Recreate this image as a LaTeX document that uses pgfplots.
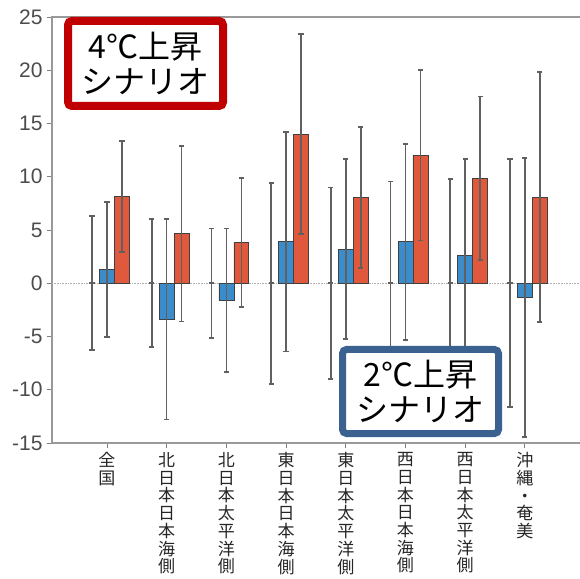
\documentclass[border=0pt]{standalone}
\usepackage{pgfplots}
\pgfplotsset{compat=1.18}
\usepackage{fontspec}
\setmainfont{Noto Sans CJK JP}
\newfontfamily\lat{Liberation Sans}
\definecolor{barblue}{HTML}{3A8DCA}
\definecolor{barred}{HTML}{E0593D}
\definecolor{boxred}{HTML}{C00000}
\definecolor{boxblue}{HTML}{3B6191}
\definecolor{errc}{HTML}{606060}

\pgfdeclareplotmark{hcap}{%
  \pgfpathmoveto{\pgfqpoint{-\pgfplotmarksize}{0pt}}%
  \pgfpathlineto{\pgfqpoint{\pgfplotmarksize}{0pt}}%
  \pgfusepathqstroke}
\pgfdeclareplotmark{vcap}{%
  \pgfpathmoveto{\pgfqpoint{0pt}{-\pgfplotmarksize}}%
  \pgfpathlineto{\pgfqpoint{0pt}{\pgfplotmarksize}}%
  \pgfusepathqstroke}

\pgfplotstableread{
x y e
-0.25 0 6.3
0.75 0 6.0
1.75 0 5.15
2.75 0 9.45
3.75 0 9.0
4.75 0 9.55
5.75 0 9.8
6.75 0 11.65
}\present

\pgfplotstableread{
x y e
0 1.3 6.33
1 -3.4 9.4
2 -1.6 6.75
3 3.9 10.3
4 3.2 8.46
5 3.9 9.2
6 2.65 9.0
7 -1.35 13.1
}\twodeg

\pgfplotstableread{
x y e
0.25 8.15 5.21
1.25 4.65 8.25
2.25 3.82 6.03
3.25 14.0 9.4
4.25 8.05 6.65
5.25 12.02 8.0
6.25 9.86 7.67
7.25 8.08 11.72
}\fourdeg

\begin{document}
\begin{tikzpicture}[x=1pt,y=1pt]
\begin{axis}[
  at={(0,0)}, anchor=south west,
  scale only axis, width=530pt, height=426pt,
  xmin=-0.921, xmax=7.957, ymin=-15, ymax=25,
  ytick={-15,-10,-5,0,5,10,15,20,25},
  yticklabels={-15,-10,-5,0,5,10,15,20,25},
  xtick={0,1,2,3,4,5,6,7},
  xticklabels={{全\\国},{北\\日\\本\\日\\本\\海\\側},{北\\日\\本\\太\\平\\洋\\側},{東\\日\\本\\日\\本\\海\\側},{東\\日\\本\\太\\平\\洋\\側},{西\\日\\本\\日\\本\\海\\側},{西\\日\\本\\太\\平\\洋\\側},{沖\\縄\\・\\奄\\美}},
  tick align=outside, xtick pos=bottom, ytick pos=left,
  major tick length=5pt,
  tick style={color=gray, line width=0.8pt},
  axis line style={gray!80, line width=1.5pt},
  yticklabel style={font=\fontsize{21}{21}\selectfont\lat, color=black!70, xshift=-1pt},
  xticklabel style={align=center, font=\fontsize{17}{17.7}\selectfont, anchor=north, yshift=-1pt, color=black!85},
  clip=false,
  error bars/error bar style={errc, line width=1.6pt},
  error bars/error mark=vcap,
  error bars/error mark options={errc, line width=1.8pt, mark size=2.6pt},
]
\draw[densely dotted, gray!60, line width=0.6pt] (axis cs:-0.921,0) -- (axis cs:7.957,0);

\addplot[only marks, mark=hcap, mark size=2.6pt, mark options={errc, line width=1.8pt},
  error bars/.cd, y dir=both, y explicit]
  table[x=x, y=y, y error=e] {\present};

\addplot[ybar, bar width=0.25, bar shift=0pt, fill=barblue, draw=black!75, line width=0.6pt,
  error bars/.cd, y dir=both, y explicit]
  table[x=x, y=y, y error=e] {\twodeg};

\addplot[ybar, bar width=0.25, bar shift=0pt, fill=barred, draw=black!75, line width=0.6pt,
  error bars/.cd, y dir=both, y explicit]
  table[x=x, y=y, y error=e] {\fourdeg};
\end{axis}

\node[draw=boxred, line width=8pt, rounded corners=4pt, fill=white,
  minimum width=155pt, minimum height=85pt, inner sep=0pt, align=center,
  font=\fontsize{32}{35}\selectfont] at (93.5,379.5) {4℃上昇\\シナリオ};
\node[draw=boxblue, line width=7pt, rounded corners=4pt, fill=white,
  minimum width=156pt, minimum height=84pt, inner sep=0pt, align=center,
  font=\fontsize{32}{35}\selectfont] at (368.5,51.5) {2℃上昇\\シナリオ};

\pgfresetboundingbox
\useasboundingbox (-52,-135) rectangle (528,443);
\end{tikzpicture}
\end{document}
